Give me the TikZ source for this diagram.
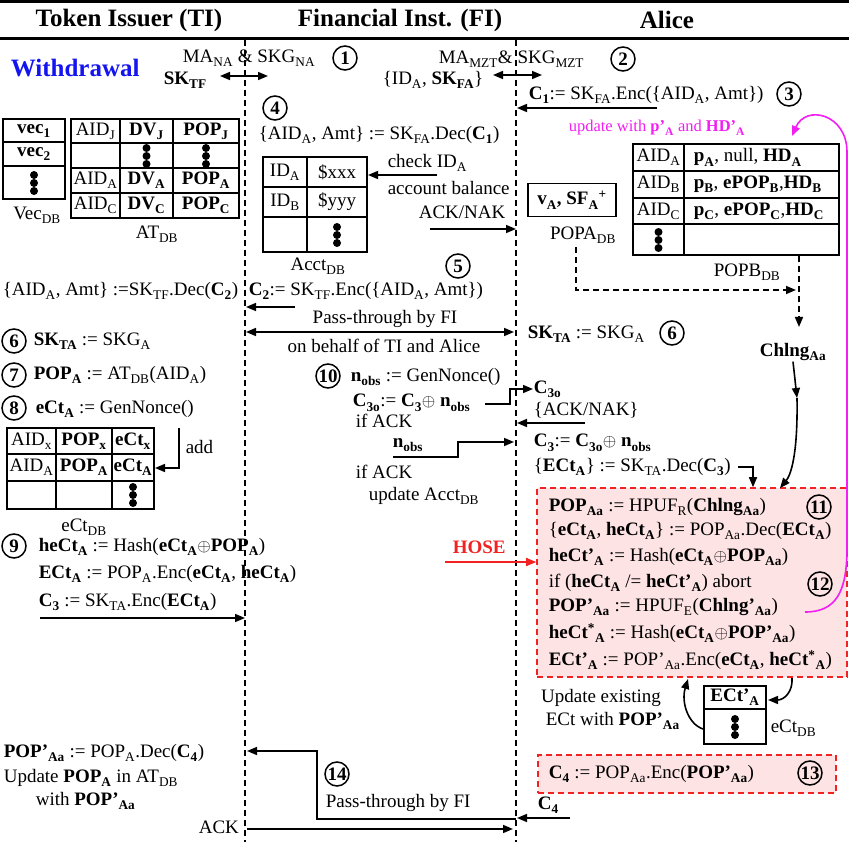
\documentclass[tikz,border=0pt]{standalone}
\usepackage{fontspec}
\setmainfont{Liberation Serif}
\usetikzlibrary{arrows.meta,positioning,calc}
\definecolor{hoseRed}{HTML}{F22222}
\definecolor{hoseFill}{HTML}{FDE3E3}
\definecolor{updMag}{HTML}{F21EF2}
\definecolor{wdBlue}{HTML}{1414F0}
\newcommand{\subs}[1]{\raisebox{-1.5pt}{\textsubscript{#1}}}
\newcommand{\sups}[1]{\textsuperscript{#1}}

\begin{document}
\begin{tikzpicture}[x=1pt,y=-1pt,line width=1.6pt,
 font=\fontsize{19}{22}\selectfont,
 txt/.style={anchor=west,inner sep=0pt},
 hdr/.style={inner sep=0pt,font=\fontsize{25}{28}\selectfont\bfseries},
 num/.style={circle,draw,line width=1.5pt,minimum size=24pt,inner sep=0pt,font=\fontsize{19}{22}\selectfont\bfseries},
 life/.style={line width=1.6pt,dash pattern=on 6pt off 4pt},
 dsh/.style={dash pattern=on 6pt off 4pt},
 arr/.style={-{Triangle[length=10pt,width=8pt]}},
 darr/.style={{Triangle[length=10pt,width=8pt]}-{Triangle[length=10pt,width=8pt]}},
 hosebox/.style={draw=hoseRed,fill=hoseFill,dash pattern=on 6pt off 4pt,line width=1.6pt,inner sep=0pt},
 cell/.style={inner sep=0pt},
 dotcol/.pic={\fill (0,-8) circle (4) (0,0) circle (4) (0,8) circle (4);}]
\useasboundingbox (0,0) rectangle (849,842);

% header
\draw[line width=3pt] (0,2) -- (849,2) (0,39) -- (849,39);
\node[hdr] (hTI) at (129,20) {Token Issuer (TI)};
\node[hdr] (hFI) at (400,20) {Financial Inst. (FI)};
\node[hdr] (hAl) at (667,20) {Alice};

% lifelines
\coordinate (tiTop) at (245,40); \coordinate (tiBot) at (245,842);
\coordinate (fiTop) at (516,40); \coordinate (fiBot) at (516,842);
\draw[life] (tiTop) -- (tiBot);
\draw[life] (fiTop) -- (fiBot);

\node[hdr,anchor=west,text=wdBlue] (wd) at (10,68) {Withdrawal};

% steps 1 and 2
\node[txt] (ma1) at (182,58) {MA\subs{NA} \& SKG\subs{NA}};
\node[num] (n1) at (345,58) {1};
\node[txt] (sktf) at (163,80) {\textbf{SK\subs{TF}}};
\coordinate (k1l) at (220,76); \coordinate (k1r) at (268,76);
\draw[darr] (k1l) -- (k1r);
\node[txt] (ma2) at (438,59) {MA\subs{MZT}\& SKG\subs{MZT}};
\node[num] (n2) at (623,59) {2};
\node[txt] (idsk) at (382,80) {\{ID\subs{A}, \textbf{SK\subs{FA}}\}};
\coordinate (k2l) at (493,75); \coordinate (k2r) at (542,75);
\draw[darr] (k2l) -- (k2r);

% step 3
\node[txt] (c1) at (528,95) {\textbf{C\subs{1}}:= SK\subs{FA}.Enc(\{AID\subs{A}, Amt\})};
\node[num] (n3) at (789,94) {3};
\coordinate (c1s) at (657,108); \coordinate (c1e) at (517,108);
\draw[arr] (c1s) -- (c1e);

% step 4
\node[num] (n4) at (275,108) {4};
\node[txt] (dec1) at (258,135) {\{AID\subs{A}, Amt\} := SK\subs{FA}.Dec(\textbf{C\subs{1}})};

% Vec_DB
\draw (3,119) rectangle (65,199) (3,142) -- (65,142) (3,166) -- (65,166);
\node[cell] (vec1) at (34,131) {\textbf{vec\subs{1}}};
\node[cell] (vec2) at (34,154) {\textbf{vec\subs{2}}};
\pic at (34,183) {dotcol};
\node[cell] (vecdb) at (37,215) {Vec\subs{DB}};

% AT_DB
\draw (71,119) rectangle (239,218) (71,143) -- (239,143) (71,168) -- (239,168)
  (71,193) -- (239,193) (120,119) -- (120,218) (173,119) -- (173,218);
\node[cell] (atJ) at (95.5,131) {AID\subs{J}};
\node[cell] (dvJ) at (146.5,131) {\textbf{DV\subs{J}}};
\node[cell] (popJ) at (206,131) {\textbf{POP\subs{J}}};
\pic at (146.5,156) {dotcol};
\pic at (206,156) {dotcol};
\node[cell] (atA) at (95.5,180.5) {AID\subs{A}};
\node[cell] (dvA) at (146.5,180.5) {\textbf{DV\subs{A}}};
\node[cell] (popA) at (206,180.5) {\textbf{POP\subs{A}}};
\node[cell] (atC) at (95.5,205.5) {AID\subs{C}};
\node[cell] (dvC) at (146.5,205.5) {\textbf{DV\subs{C}}};
\node[cell] (popC) at (206,205.5) {\textbf{POP\subs{C}}};
\node[cell] (atdb) at (157,234) {AT\subs{DB}};

% Acct_DB
\draw (263,157) rectangle (367,252) (263,187) -- (367,187) (263,217) -- (367,217) (307,157) -- (307,252);
\node[cell] (acA) at (285,172) {ID\subs{A}};
\node[cell] (acAv) at (337,172) {\$xxx};
\node[cell] (acB) at (285,202) {ID\subs{B}};
\node[cell] (acBv) at (337,202) {\$yyy};
\pic at (337,235) {dotcol};
\node[cell] (acctdb) at (318,266) {Acct\subs{DB}};
\node[txt] (chk) at (387,163) {check ID\subs{A}};
\node[txt] (bal) at (387,188) {account balance};
\coordinate (chks) at (437,175); \coordinate (chke) at (368,175);
\draw[arr] (chks) -- (chke);
\node[txt] (ack1) at (418,212) {ACK/NAK};
\coordinate (ack1s) at (430,229); \coordinate (ack1e) at (516,229);
\draw[arr] (ack1s) -- (ack1e);

% Alice store
\node[draw,minimum width=88pt,minimum height=33pt,inner sep=0pt] (vsf) at (572,200) {\textbf{v\subs{A}, SF\subs{A}\sups{+}}};
\node[cell] (popadb) at (583,235) {POPA\subs{DB}};
\node[txt,text=updMag,font=\fontsize{16.5}{19}\selectfont] (upd) at (568,128) {update with \textbf{p'\subs{A}} and \textbf{HD'\subs{A}}};
\draw (633,144) rectangle (839,255) (633,171) -- (839,171) (633,198) -- (839,198)
  (633,224) -- (839,224) (684,144) -- (684,255);
\node[cell] (pbA) at (658.5,157.5) {AID\subs{A}};
\node[txt] (pbAv) at (693,157.5) {\textbf{p\subs{A}}, null, \textbf{HD\subs{A}}};
\node[cell] (pbB) at (658.5,184.5) {AID\subs{B}};
\node[txt] (pbBv) at (693,184.5) {\textbf{p\subs{B}}, \textbf{ePOP\subs{B}},\textbf{HD\subs{B}}};
\node[cell] (pbC) at (658.5,211) {AID\subs{C}};
\node[txt] (pbCv) at (693,211) {\textbf{p\subs{C}}, \textbf{ePOP\subs{C}},\textbf{HD\subs{C}}};
\pic at (658.5,240) {dotcol};
\node[cell] (popbdb) at (747,272) {POPB\subs{DB}};
\coordinate (popas) at (576,247); \coordinate (popbe) at (796,290);
\draw[dsh,arr] (popas) |- (popbe);
\node[cell] (chl) at (793,352) {\textbf{Chlng\subs{Aa}}};
\coordinate (popbs) at (799,256); \coordinate (popbc) at (799,327);
\draw[dsh,arr] (popbs) -- (popbc);

% step 5
\node[num] (n5) at (458,266) {5};
\node[txt] (c2) at (248,291) {\textbf{C\subs{2}}:= SK\subs{TF}.Enc(\{AID\subs{A}, Amt\})};
\node[txt] (dec2) at (2,291) {\{AID\subs{A}, Amt\} :=SK\subs{TF}.Dec(\textbf{C\subs{2}})};
\coordinate (c2s) at (295,307); \coordinate (c2e) at (246,307);
\draw[arr] (c2s) -- (c2e);
\coordinate (pt1l) at (246,332); \coordinate (pt1r) at (514,332);
\draw[darr] (pt1l) -- (pt1r);
\node[cell] (pt1a) at (385,319) {Pass-through by FI};
\node[cell] (pt1b) at (384,346) {on behalf of TI and Alice};

% steps 6 to 8
\node[num] (n6l) at (14,341) {6};
\node[txt] (sk6l) at (33,341) {\textbf{SK\subs{TA}} := SKG\subs{A}};
\node[txt] (sk6r) at (527,334) {\textbf{SK\subs{TA}} := SKG\subs{A}};
\node[num] (n6r) at (672,333) {6};
\node[num] (n7) at (14,375) {7};
\node[txt] (pop7) at (33,375) {\textbf{POP\subs{A}} := AT\subs{DB}(AID\subs{A})};
\node[num] (n8) at (14,408) {8};
\node[txt] (ect8) at (35,409) {\textbf{eCt\subs{A}} := GenNonce()};

% eCt_DB
\draw (7,428) rectangle (154,509) (7,454) -- (154,454) (7,481) -- (154,481) (56,428) -- (56,509) (112,428) -- (112,509);
\node[cell] (ecx) at (31.5,441) {AID\subs{x}};
\node[cell] (ecxp) at (84,441) {\textbf{POP\subs{x}}};
\node[cell] (ecxe) at (133,441) {\textbf{eCt\subs{x}}};
\node[cell] (eca) at (31.5,467.5) {AID\subs{A}};
\node[cell] (ecap) at (84,467.5) {\textbf{POP\subs{A}}};
\node[cell] (ecae) at (133,467.5) {\textbf{eCt\subs{A}}};
\pic at (133,495) {dotcol};
\node[cell] (ectdb) at (84,527) {eCt\subs{DB}};
\node[txt] (add) at (185,447) {add};
\coordinate (adds) at (179,428); \coordinate (adde) at (155,468);
\draw[arr] (adds) |- (adde);

% step 9
\node[num] (n9) at (14,546) {9};
\node[txt] (h9) at (38,547) {\textbf{heCt\subs{A}} := Hash(\textbf{eCt\subs{A}}$\oplus$\textbf{POP\subs{A}})};
\node[txt] (e9) at (38,574) {\textbf{ECt\subs{A}} := POP\subs{A}.Enc(\textbf{eCt\subs{A}}, \textbf{heCt\subs{A}})};
\node[txt] (c9) at (38,602) {\textbf{C\subs{3}} := SK\subs{TA}.Enc(\textbf{ECt\subs{A}})};
\coordinate (c3s) at (40,618); \coordinate (c3e) at (245,618);
\draw[arr] (c3s) -- (c3e);

% step 10
\node[num] (n10) at (328,376) {10};
\node[txt] (nob) at (350,377) {\textbf{n\subs{obs}} := GenNonce()};
\node[txt] (c3o) at (352,403) {\textbf{C\subs{3o}}:= \textbf{C\subs{3}}$\oplus$ \textbf{n\subs{obs}}};
\node[txt] (c3oA) at (533,389) {\textbf{C\subs{3o}}};
\coordinate (c3os) at (485,404);
\draw[arr] (c3os) -- ++(25,0) |- (c3oA.west);
\node[txt] (ack2) at (533,410) {\{ACK/NAK\}};
\coordinate (ack2s) at (585,423); \coordinate (ack2e) at (517,423);
\draw[arr] (ack2s) -- (ack2e);
\node[txt] (if1) at (355,421) {if ACK};
\node[txt] (nob2) at (392,445) {\textbf{n\subs{obs}}};
\coordinate (nobs) at (393,457); \coordinate (nobe) at (514,442);
\draw[arr] (nobs) -- ++(65,0) |- (nobe);
\node[txt] (if2) at (355,472) {if ACK};
\node[txt] (updac) at (368,496) {update Acct\subs{DB}};
\node[txt] (c3r) at (533,443) {\textbf{C\subs{3}}:= \textbf{C\subs{3o}}$\oplus$ \textbf{n\subs{obs}}};
\node[txt] (dec3) at (533,467) {\{\textbf{ECt\subs{A}}\} := SK\subs{TA}.Dec(\textbf{C\subs{3}})};

% HOSE box, steps 11 and 12
\node[hosebox,minimum width=310pt,minimum height=189pt] (hbox) at (692,582.5) {};
\coordinate (dec3s) at (738,467);
\draw[arr] (dec3s) -- ++(15,0) coordinate (dec3k) -- (dec3k |- hbox.north);
\coordinate (chlm) at (797,398); \coordinate (chle) at (780,488);
\draw[arr] (chl.south) -- (chlm);
\draw[arr] (chlm) .. controls (798,458) and (790,476) .. (chle);
\node[txt,text=hoseRed,font=\fontsize{19}{22}\selectfont\bfseries] (hose) at (452,547) {HOSE};
\coordinate (hoses) at (445,562);
\draw[arr,hoseRed] (hoses) -- (hoses -| hbox.west);
\node[txt] (b1) at (548,507) {\textbf{POP\subs{Aa}} := HPUF\subs{R}(\textbf{Chlng\subs{Aa}})};
\node[txt] (b2) at (548,531) {\{\textbf{eCt\subs{A}}, \textbf{heCt\subs{A}}\} := POP\subs{Aa}.Dec(\textbf{ECt\subs{A}})};
\node[txt] (b3) at (548,557) {\textbf{heCt'\subs{A}} := Hash(\textbf{eCt\subs{A}}$\oplus$\textbf{POP\subs{Aa}})};
\node[txt] (b4) at (548,583) {if (\textbf{heCt\subs{A}} /= \textbf{heCt'\subs{A}}) abort};
\node[txt] (b5) at (548,607) {\textbf{POP'\subs{Aa}} := HPUF\subs{E}(\textbf{Chlng'\subs{Aa}})};
\node[txt] (b6) at (548,633) {\textbf{heCt\sups{*}\subs{A}} := Hash(\textbf{eCt\subs{A}}$\oplus$\textbf{POP'\subs{Aa}})};
\node[txt] (b7) at (548,660) {\textbf{ECt'\subs{A}} := POP'\subs{Aa}.Enc(\textbf{eCt\subs{A}}, \textbf{heCt\sups{*}\subs{A}})};
\node[num] (n11) at (819,507) {11};
\node[num] (n12) at (820,584) {12};
\coordinate (m1) at (805,612); \coordinate (m2) at (792,136);
\draw[arr,updMag] (m1) .. controls (836,612) and (847,592) .. (847,548) -- (847,152)
  .. controls (847,114) and (806,104) .. (m2);

% eCt_DB at Alice
\draw (704,686) rectangle (766,744) (704,709) -- (766,709);
\node[cell] (ectp) at (735,697.5) {\textbf{ECt'\subs{A}}};
\pic at (735,727) {dotcol};
\node[txt] (ectdb2) at (770,728) {eCt\subs{DB}};
\node[cell] (upx1) at (601,698) {Update existing};
\node[txt] (upx2) at (545,721) {ECt with \textbf{POP'\subs{Aa}}};
\coordinate (u1s) at (792,678); \coordinate (u1e) at (768,700);
\draw[arr] (u1s) .. controls (793,692) and (784,700) .. (u1e);
\coordinate (u2s) at (703,729); \coordinate (u2e) at (688,679);
\draw[arr] (u2s) .. controls (688,724) and (681,702) .. (u2e);

% step 13
\node[hosebox,minimum width=298pt,minimum height=38pt] (c4box) at (687,774) {};
\node[txt] (c4t) at (548,774) {\textbf{C\subs{4}} := POP\subs{Aa}.Enc(\textbf{POP'\subs{Aa}})};
\node[num] (n13) at (810,773) {13};

% step 14
\node[txt] (c4a) at (537,805) {\textbf{C\subs{4}}};
\coordinate (c4s) at (570,818); \coordinate (c4e) at (517,818);
\draw[arr] (c4s) -- (c4e);
\coordinate (pt2s) at (516,819); \coordinate (pt2e) at (247,751);
\draw[arr] (pt2s) -- ++(-199,0) |- (pt2e);
\node[num] (n14) at (337,774) {14};
\node[txt] (pt2) at (325,803) {Pass-through by FI};
\node[txt] (ackl) at (198,827) {ACK};
\coordinate (ack3s) at (247,829); \coordinate (ack3e) at (513,829);
\draw[arr] (ack3s) -- (ack3e);
\node[txt] (dec4) at (3,753) {\textbf{POP'\subs{Aa}} := POP\subs{A}.Dec(\textbf{C\subs{4}})};
\node[txt] (upd4) at (3,778) {Update \textbf{POP\subs{A}} in AT\subs{DB}};
\node[txt] (upd4b) at (35,801) {with \textbf{POP'\subs{Aa}}};
\end{tikzpicture}
\end{document}
